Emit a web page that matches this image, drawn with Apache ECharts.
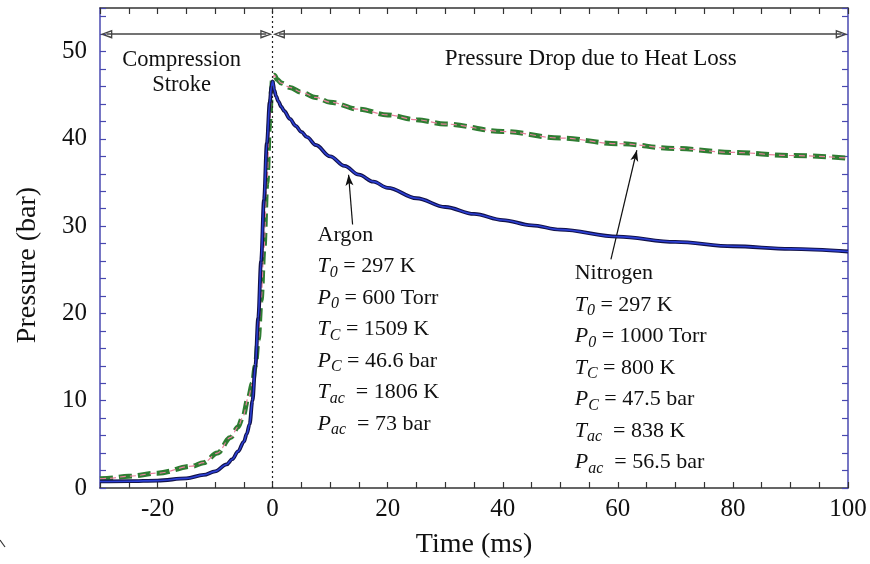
<!DOCTYPE html>
<html>
<head>
<meta charset="utf-8">
<script src="https://cdn.jsdelivr.net/npm/echarts@6/dist/echarts.min.js"></script>
<style>html,body{margin:0;padding:0;background:#fff}#c{width:870px;height:564px}</style>
</head>
<body>
<div id="c"></div>
<script>
// ---- data (time in ms, pressure in bar) ----
const argonTime = [-30,-25,-20,-15,-12,-10,-8,-7,-6,-5,-4.5,-4,-3.5,-3,-2.5,-2,-1.5,-1,-0.5,-0.2,0,0.3,0.6,1,1.5,2,3,4,5,6,7.5,10,12.5,15,17.5,20,25,30,35,40,45,50,60,70,80,90,100];
const argonPressure = [0.75,0.78,0.85,1.1,1.5,1.9,2.7,3.3,4.2,5.3,6.2,7.3,10.0,14.0,19.5,26.0,33.0,39.5,44.2,46.0,46.6,45.6,44.9,44.3,43.7,43.2,42.3,41.5,40.8,40.2,39.3,38.0,36.9,35.9,35.1,34.4,33.2,32.2,31.4,30.7,30.1,29.6,28.8,28.2,27.7,27.4,27.1];
const nitrogenTime = [-30,-28.8,-25,-20,-14,-12,-9.6,-7.3,-6,-5.2,-4.2,-3.5,-3,-2.5,-2,-1.5,-1,-0.5,-0.2,0,0.3,0.8,1.5,3,5,7.5,10,15,20,25,30,40,50,60,70,80,90,100];
const nitrogenPressure = [1.05,1.1,1.35,1.7,2.5,2.9,4.0,5.8,7.0,8.1,10.4,12.0,14.0,17.0,21.5,27.5,35.0,42.0,45.5,47.0,47.3,46.8,46.4,45.9,45.35,44.75,44.2,43.4,42.75,42.2,41.7,40.85,40.1,39.45,38.9,38.45,38.1,37.8];
const xTickLabels = [-20,0,20,40,60,80,100];
const yTickLabels = [0,10,20,30,40,50];
const phaseLabels = ['Compression\nStroke', 'Pressure Drop due to Heat Loss'];
const argonLines = ['Argon', ['T','0','297 K'], ['P','0','600 Torr'], ['T','C','1509 K'], ['P','C','46.6 bar'], ['T','ac','1806 K'], ['P','ac','73 bar']];
const nitrogenLines = ['Nitrogen', ['T','0','297 K'], ['P','0','1000 Torr'], ['T','C','800 K'], ['P','C','47.5 bar'], ['T','ac','838 K'], ['P','ac','56.5 bar']];

const FONT = 'Liberation Serif';
const pair = (xs, ys) => xs.map((x, i) => [x, ys[i]]);
const hollowTri = 'path://M5,0L10,12L0,12Z M5,3.4L2.4,10.7L7.6,10.7Z';
const HEAD_INSET = 1.1; // half arrow-head length, in ms units, so tips touch the ends

const chart = echarts.init(document.getElementById('c'), null, {renderer: 'canvas'});

function xAxisCfg(pos, show) {
  return {
    type: 'value', position: pos, min: -30, max: 100, interval: 5,
    axisLine: {show: true, onZero: false, lineStyle: {color: '#333', width: 1.5}},
    axisTick: {show: true, inside: true, length: 6, lineStyle: {color: '#333', width: 1.2}},
    axisLabel: {show: show, margin: 9, color: '#111', fontFamily: FONT, fontSize: 25,
      formatter: v => xTickLabels.indexOf(v) >= 0 ? String(v) : ''},
    splitLine: {show: false},
    name: show ? 'Time (ms)' : '', nameLocation: 'middle', nameGap: 43,
    nameTextStyle: {fontFamily: FONT, fontSize: 28, color: '#111'}
  };
}
function yAxisCfg(pos, show) {
  return {
    type: 'value', position: pos, min: 0, max: 55, interval: 2,
    axisLine: {show: true, onZero: false, lineStyle: {color: '#4848b0', width: 1.5}},
    axisTick: {show: true, inside: true, length: 6, lineStyle: {color: '#4848b0', width: 1.2}},
    axisLabel: {show: show, margin: 13, color: '#111', fontFamily: FONT, fontSize: 25,
      formatter: v => yTickLabels.indexOf(v) >= 0 ? String(v) : ''},
    splitLine: {show: false},
    name: show ? 'Pressure (bar)' : '', nameLocation: 'middle', nameGap: 58,
    nameTextStyle: {fontFamily: FONT, fontSize: 28, color: '#111', padding: [0, 34, 0, 0]}
  };
}

const arrowLine = {color: '#444', width: 1.5, type: 'solid'};
const pointerLine = {color: '#111', width: 1.2, type: 'solid'};

chart.setOption({
  animation: false,
  backgroundColor: '#fff',
  grid: {left: 100, right: 22, top: 8, bottom: 76},
  xAxis: [xAxisCfg('bottom', true), xAxisCfg('top', false)],
  yAxis: [yAxisCfg('left', true), yAxisCfg('right', false)],
  series: [
    {type: 'line', name: 'N2 exp', data: pair(nitrogenTime, nitrogenPressure), showSymbol: false, symbol: 'none',
      smooth: 0.35, smoothMonotone: 'x', z: 3,
      lineStyle: {color: '#2e7d32', width: 5, type: [13, 6]}},
    {type: 'line', name: 'N2 model', data: pair(nitrogenTime, nitrogenPressure), showSymbol: false, symbol: 'none',
      smooth: 0.35, smoothMonotone: 'x', z: 4,
      lineStyle: {color: '#e8809c', width: 1.2, type: [6, 4]}},
    {type: 'line', name: 'Ar exp', data: pair(argonTime, argonPressure), showSymbol: false, symbol: 'none',
      smooth: 0.35, smoothMonotone: 'x', z: 5,
      lineStyle: {color: '#12124a', width: 3.8},
      markLine: {
        silent: true, animation: false, z: 6,
        symbol: ['none', 'none'],
        label: {show: false},
        data: [
          {xAxis: 0, symbol: 'none', lineStyle: {color: '#222', width: 1.2, type: [2, 3]}},
          [{coord: [-30 + HEAD_INSET, 52], symbol: hollowTri, symbolSize: [9, 12], lineStyle: arrowLine},
           {coord: [0 - HEAD_INSET, 52], symbol: hollowTri, symbolSize: [9, 12]}],
          [{coord: [0 + HEAD_INSET, 52], symbol: hollowTri, symbolSize: [9, 12], lineStyle: arrowLine},
           {coord: [100 - HEAD_INSET, 52], symbol: hollowTri, symbolSize: [9, 12]}],
          [{coord: [13.9, 30.2], symbol: 'none', lineStyle: pointerLine},
           {coord: [13.2, 35.9], symbol: 'arrow', symbolSize: [6, 11]}],
          [{coord: [58.8, 26.2], symbol: 'none', lineStyle: pointerLine},
           {coord: [63.3, 38.7], symbol: 'arrow', symbolSize: [6, 11]}]
        ]
      }},
    {type: 'line', name: 'Ar model', data: pair(argonTime, argonPressure), showSymbol: false, symbol: 'none',
      smooth: 0.35, smoothMonotone: 'x', z: 7,
      lineStyle: {color: '#2b3fd4', width: 1.6}}
  ]
});

// ---- annotation text placed through the chart's own scales ----
function toPx(t, p) { return chart.convertToPixel({gridIndex: 0}, [t, p]); }
const rich = {
  n: {fontFamily: FONT, fontSize: 22, lineHeight: 31.5, fill: '#111'},
  i: {fontFamily: FONT, fontSize: 22, lineHeight: 31.5, fontStyle: 'italic', fill: '#111'},
  s: {fontFamily: FONT, fontSize: 16, lineHeight: 31.5, fontStyle: 'italic', padding: [12, 0, 0, 0], fill: '#111'}
};
function block(lines) {
  return lines.map(l => typeof l === 'string' ? '{n|' + l + '}' :
    '{i|' + l[0] + '}{s|' + l[1] + '}{n|' + (l[1].length > 1 ? '  = ' : ' = ') + l[2] + '}').join('\n');
}
const cPos = toPx(-15.8, 47.6);
const hPos = toPx(55.3, 49.2);
const aPos = toPx(7.8, 30.8);
const nPos = toPx(52.5, 26.4);
chart.setOption({
  graphic: [
    {type: 'text', x: cPos[0], y: cPos[1], z: 20, style: {text: phaseLabels[0], fontFamily: FONT, fontSize: 22.5, lineHeight: 25,
      fill: '#111', align: 'center', verticalAlign: 'middle'}},
    {type: 'text', x: hPos[0], y: hPos[1], z: 20, style: {text: phaseLabels[1], fontFamily: FONT, fontSize: 23,
      fill: '#111', align: 'center', verticalAlign: 'middle'}},
    {type: 'text', x: aPos[0], y: aPos[1], z: 20, style: {text: block(argonLines), rich: rich, align: 'left', verticalAlign: 'top'}},
    {type: 'text', x: nPos[0], y: nPos[1], z: 20, style: {text: block(nitrogenLines), rich: rich, align: 'left', verticalAlign: 'top'}},
    {type: 'line', z: 20, shape: {x1: 0, y1: 540, x2: 5, y2: 547}, style: {stroke: '#333', lineWidth: 1.2}}
  ]
});
</script>
</body>
</html>
